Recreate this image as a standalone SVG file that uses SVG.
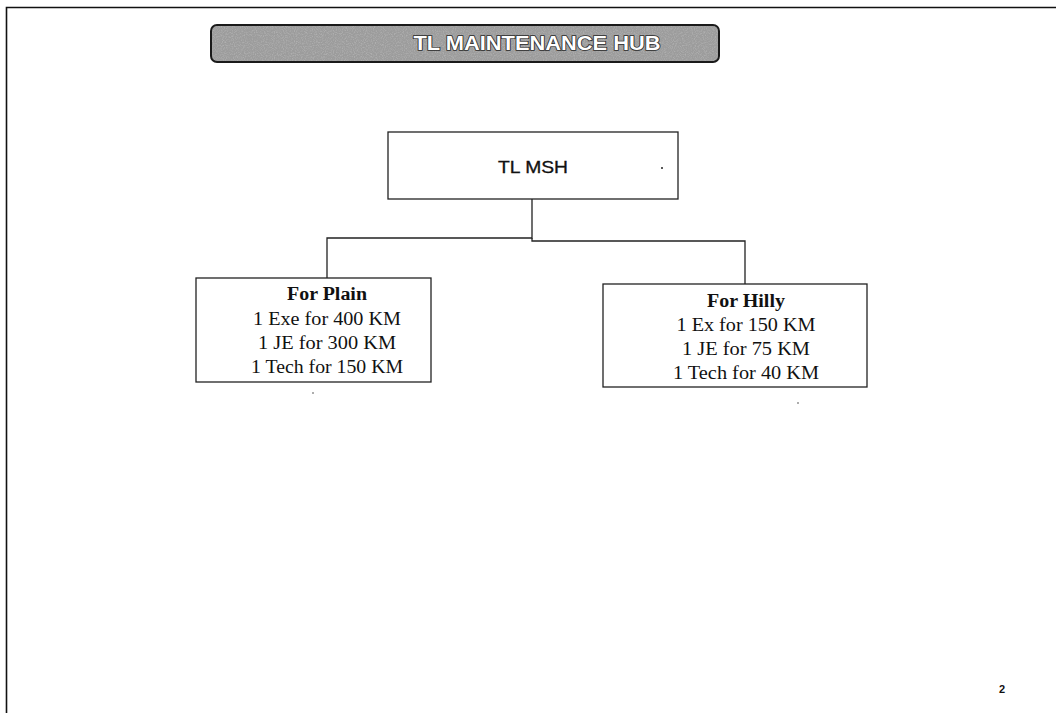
<svg xmlns="http://www.w3.org/2000/svg" width="1056" height="713" viewBox="0 0 1056 713">
<style>
.node rect{fill:#ffffff;stroke:#222;stroke-width:1.3}
.conn{fill:none;stroke:#222;stroke-width:1.3}
.tnr{font-family:"Liberation Serif","Times New Roman",serif;font-size:18px;fill:#111;text-anchor:middle}
.bold{font-weight:bold}
</style>
<defs>
<filter id="grain" x="0" y="0" width="100%" height="100%">
<feTurbulence type="fractalNoise" baseFrequency="0.9" numOctaves="2" seed="3" result="n"/>
<feColorMatrix in="n" type="matrix" values="0 0 0 0 0.5  0 0 0 0 0.5  0 0 0 0 0.5  0 0 0 -2.6 1.5" result="g"/>
<feComposite in="g" in2="SourceGraphic" operator="in"/>
</filter>
</defs>
<rect width="1056" height="713" fill="#ffffff"/>
<!-- page border -->
<path d="M6.5,713 V7.5 H1056" fill="none" stroke="#111" stroke-width="1.6"/>
<!-- banner -->
<g id="banner">
<rect x="211" y="25" width="508" height="37" rx="6" fill="#9c9c9c" stroke="#1a1a1a" stroke-width="2"/>
<rect x="212" y="26" width="506" height="35" rx="5" fill="#000" filter="url(#grain)" opacity="0.6"/>
<text x="537" y="50" font-family="Liberation Sans, Arial, sans-serif" font-weight="bold" font-size="20" fill="#ffffff" stroke="#2a2a2a" stroke-width="1.6" paint-order="stroke" text-anchor="middle" textLength="247" lengthAdjust="spacingAndGlyphs">TL MAINTENANCE HUB</text>
</g>
<g id="connectors">
<path class="conn" d="M532,199 V238 H327 V278"/>
<path class="conn" d="M532,238 V241 H745 V284"/>
</g>
<g id="node-msh" class="node">
<rect x="388" y="132" width="290" height="67"/>
<text x="533" y="173" font-family="Liberation Sans, Arial, sans-serif" font-size="17" fill="#111" stroke="#111" stroke-width="0.3" text-anchor="middle" textLength="70" lengthAdjust="spacingAndGlyphs">TL MSH</text>
<circle cx="662" cy="168" r="1" fill="#222"/>
</g>
<g id="node-plain" class="node">
<rect x="196" y="278" width="235" height="104"/>
<text class="tnr bold" x="327" y="300" textLength="80" lengthAdjust="spacingAndGlyphs">For Plain</text>
<text class="tnr" x="327" y="325" textLength="148" lengthAdjust="spacingAndGlyphs">1 Exe for 400 KM</text>
<text class="tnr" x="327" y="349" textLength="138" lengthAdjust="spacingAndGlyphs">1 JE for 300 KM</text>
<text class="tnr" x="327" y="373" textLength="152" lengthAdjust="spacingAndGlyphs">1 Tech for 150 KM</text>
</g>
<g id="node-hilly" class="node">
<rect x="603" y="284" width="264" height="103"/>
<text class="tnr bold" x="746" y="307" textLength="78" lengthAdjust="spacingAndGlyphs">For Hilly</text>
<text class="tnr" x="746" y="331" textLength="139" lengthAdjust="spacingAndGlyphs">1 Ex for 150 KM</text>
<text class="tnr" x="746" y="355" textLength="128" lengthAdjust="spacingAndGlyphs">1 JE for 75 KM</text>
<text class="tnr" x="746" y="379" textLength="146" lengthAdjust="spacingAndGlyphs">1 Tech for 40 KM</text>
</g>
<circle cx="313" cy="393" r="0.8" fill="#444"/>
<circle cx="798" cy="403" r="0.8" fill="#444"/>
<text x="1002" y="693" font-family="Liberation Sans, Arial, sans-serif" font-weight="bold" font-size="11" fill="#111" text-anchor="middle">2</text>
</svg>
